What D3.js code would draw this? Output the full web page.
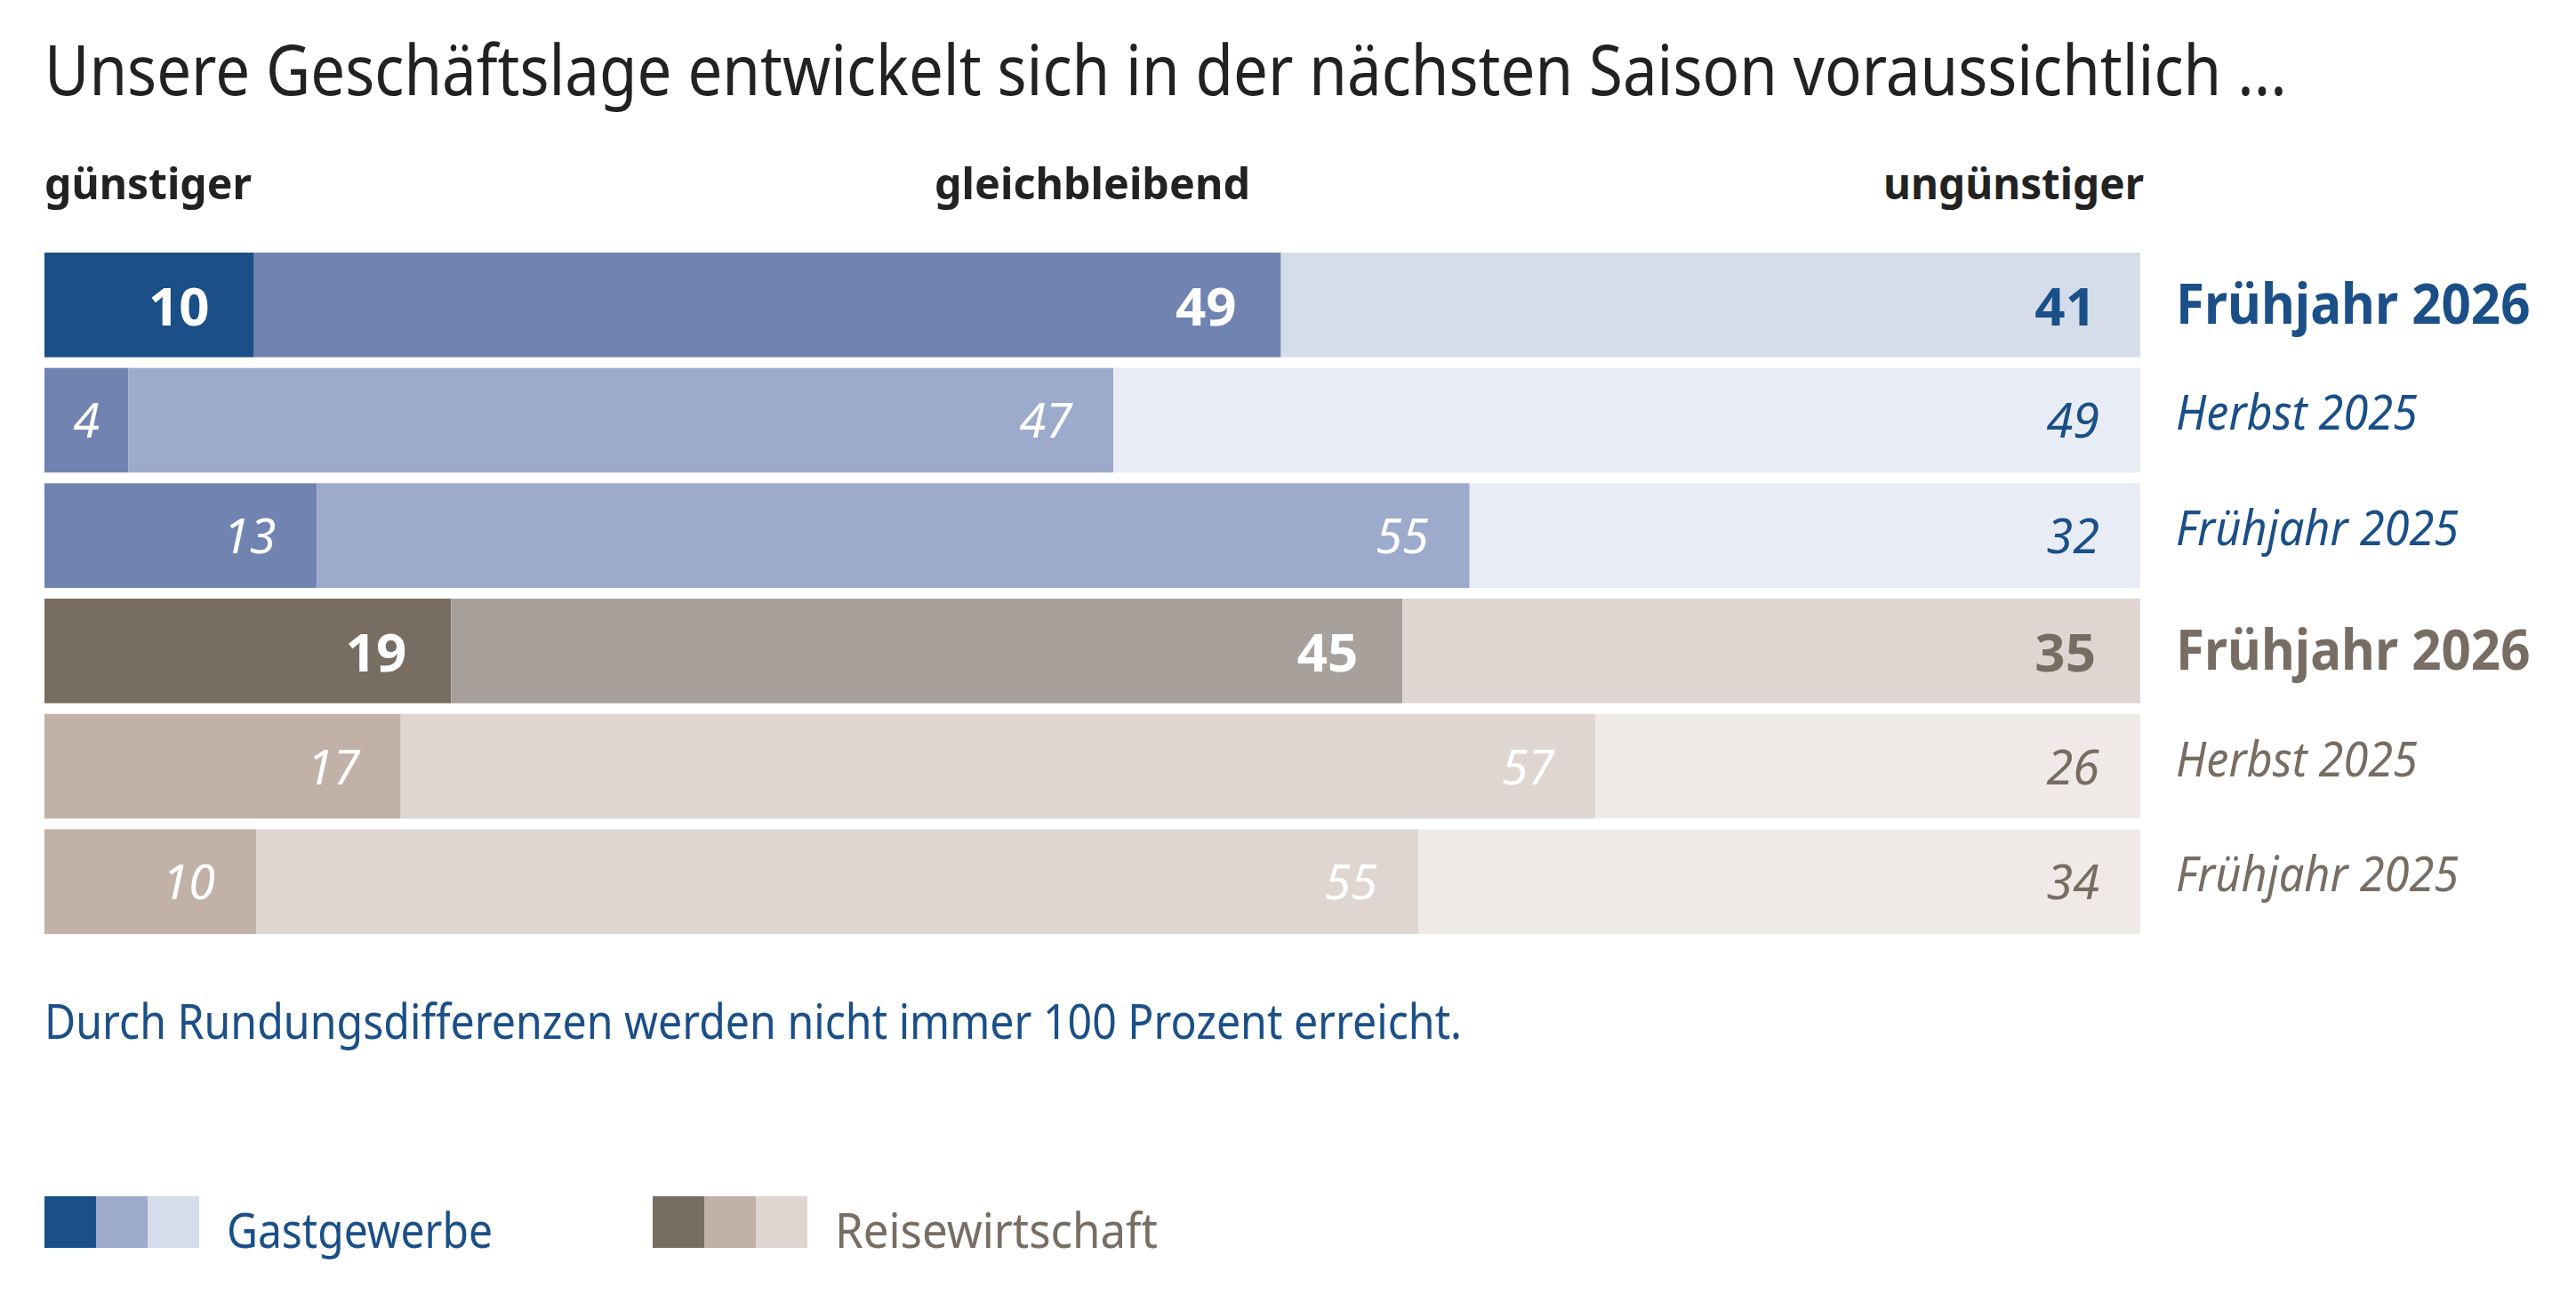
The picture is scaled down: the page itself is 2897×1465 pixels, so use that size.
<!DOCTYPE html>
<html>
<head>
<meta charset="utf-8">
<script src="https://cdn.jsdelivr.net/npm/d3@7"></script>
<style>
  body { margin: 0; background: #fff; }
  text { font-family: "Noto Sans", "Open Sans", sans-serif; }
</style>
</head>
<body>
<div id="chart"></div>
<script>
// survey answers in percent, one entry per bar row (top to bottom)
const rowLabels = ["Frühjahr 2026", "Herbst 2025", "Frühjahr 2025", "Frühjahr 2026", "Herbst 2025", "Frühjahr 2025"];
const branches = ["Gastgewerbe", "Gastgewerbe", "Gastgewerbe", "Reisewirtschaft", "Reisewirtschaft", "Reisewirtschaft"];
const guenstiger = [10, 4, 13, 19.4, 17, 10.1];
const gleichbleibend = [49, 47, 55, 45.4, 57, 55.45];
const unguenstiger = [41, 49, 32, 35.2, 26, 34.45];
const currentRows = [0, 3];
const headers = ["günstiger", "gleichbleibend", "ungünstiger"];
const title = "Unsere Geschäftslage entwickelt sich in der nächsten Saison voraussichtlich ...";
const note = "Durch Rundungsdifferenzen werden nicht immer 100 Prozent erreicht.";

const W = 2897, H = 1465;
const left = 50, right = 2407;

const palette = {
  Gastgewerbe: {
    current: ["#1b4f87", "#7183b1", "#d5dcea"],
    past: ["#7183b1", "#9caacc", "#e8edf5"],
    legend: ["#1b4f87", "#9caacc", "#d5dcea"],
    text: "#1b4f87"
  },
  Reisewirtschaft: {
    current: ["#786d63", "#a8a09a", "#dfd6d1"],
    past: ["#c1b1a7", "#dfd6d1", "#efeae7"],
    legend: ["#786d63", "#c1b1a7", "#dfd6d1"],
    text: "#786d63"
  }
};

const svg = d3.select('#chart').append('svg')
  .attr('width', W).attr('height', H);

svg.append('rect').attr('width', W).attr('height', H).attr('fill', '#fff');

const x = d3.scaleLinear().domain([0, 100]).range([left, right]);
const y = d3.scaleBand().domain(d3.range(rowLabels.length)).range([284, 1050]).paddingInner(0.093);
const fmt = d3.format('.0f');

const table = rowLabels.map((r, i) => ({ i, g: guenstiger[i], m: gleichbleibend[i], u: unguenstiger[i] }));
const keys = ['g', 'm', 'u'];
const series = d3.stack().keys(keys)(table);

// squeeze a text horizontally so it spans the given width (condensed face look)
function fitWidth(sel, width) {
  sel.each(function () {
    const natural = this.getComputedTextLength();
    const k = width / natural;
    const t = d3.select(this);
    const tx = +t.attr('x'), ty = +t.attr('y');
    t.attr('x', 0).attr('y', 0)
      .attr('transform', `translate(${tx},${ty}) scale(${k},1)`);
  });
}

// title
svg.append('text')
  .attr('x', left).attr('y', 107)
  .attr('font-size', 78)
  .attr('fill', '#222')
  .text(title)
  .call(fitWidth, 2522);

// column headers
const headerPos = [
  { x: left, anchor: 'start', w: 233 },
  { x: (left + right) / 2, anchor: 'middle', w: 355 },
  { x: right + 4, anchor: 'end', w: 293 }
];
svg.selectAll('.hdr').data(headers).join('text')
  .attr('class', 'hdr')
  .attr('x', (d, i) => headerPos[i].x)
  .attr('y', 224)
  .attr('text-anchor', (d, i) => headerPos[i].anchor)
  .attr('font-size', 48).attr('font-weight', 700).attr('fill', '#222')
  .attr('textLength', (d, i) => headerPos[i].w).attr('lengthAdjust', 'spacingAndGlyphs')
  .text(d => d);

const isCurrent = i => currentRows.includes(i);
const colorOf = (i, k) => palette[branches[i]][isCurrent(i) ? 'current' : 'past'][k];

// bars
series.forEach((s, k) => {
  svg.selectAll('.seg' + k).data(s).join('rect')
    .attr('class', 'seg' + k)
    .attr('x', d => x(d[0]))
    .attr('y', d => y(d.data.i))
    .attr('width', d => x(d[1]) - x(d[0]))
    .attr('height', y.bandwidth())
    .attr('fill', d => colorOf(d.data.i, k));
});

// value labels
series.forEach((s, k) => {
  const key = keys[k];
  svg.selectAll('.val' + k).data(s).join('text')
    .attr('class', 'val' + k)
    .attr('x', d => {
      const w = x(d[1]) - x(d[0]);
      const pad = isCurrent(d.data.i) ? 50 : 46;
      return w < 150 ? (x(d[0]) + x(d[1])) / 2 : x(d[1]) - pad;
    })
    .attr('text-anchor', d => (x(d[1]) - x(d[0]) < 150 ? 'middle' : 'end'))
    .attr('y', d => y(d.data.i) + y.bandwidth() / 2 + (isCurrent(d.data.i) ? 23 : 20))
    .attr('font-size', d => isCurrent(d.data.i) ? 60 : 54)
    .attr('font-weight', d => isCurrent(d.data.i) ? 700 : 400)
    .attr('font-style', d => isCurrent(d.data.i) ? 'normal' : 'italic')
    .attr('fill', d => k < 2 ? '#fff' : palette[branches[d.data.i]].text)
    .text(d => fmt(d.data[key]));
});

// row labels on the right
svg.selectAll('.rowlab').data(rowLabels).join('text')
  .attr('class', 'rowlab')
  .attr('x', 2447)
  .attr('y', (d, i) => y(i) + y.bandwidth() / 2 + (isCurrent(i) ? 21 : 11))
  .attr('font-size', (d, i) => isCurrent(i) ? 62 : 54)
  .attr('font-weight', (d, i) => isCurrent(i) ? 700 : 400)
  .attr('font-style', (d, i) => isCurrent(i) ? 'normal' : 'italic')
  .attr('fill', (d, i) => palette[branches[i]].text)
  .text(d => d)
  .each(function (d, i) {
    const w = this.getComputedTextLength();
    d3.select(this).attr('textLength', w * (isCurrent(i) ? 0.94 : 0.935)).attr('lengthAdjust', 'spacingAndGlyphs');
  });

// footnote
svg.append('text')
  .attr('x', left).attr('y', 1168)
  .attr('font-size', 55).attr('fill', '#1b4f87')
  .attr('textLength', 1594).attr('lengthAdjust', 'spacingAndGlyphs')
  .text(note);

// legend
const legendItems = [
  { name: 'Gastgewerbe', x: 50, w: 299 },
  { name: 'Reisewirtschaft', x: 734, w: 363 }
];
const sw = 58;
const lg = svg.selectAll('.legend').data(legendItems).join('g')
  .attr('class', 'legend')
  .attr('transform', d => `translate(${d.x},1345)`);
lg.each(function (d) {
  d3.select(this).selectAll('rect').data(palette[d.name].legend).join('rect')
    .attr('x', (c, j) => j * sw)
    .attr('y', 0)
    .attr('width', sw).attr('height', sw)
    .attr('fill', c => c);
});
lg.append('text')
  .attr('x', 3 * sw + 31)
  .attr('y', 58)
  .attr('font-size', 54)
  .attr('fill', d => palette[d.name].text)
  .attr('textLength', d => d.w).attr('lengthAdjust', 'spacingAndGlyphs')
  .text(d => d.name);
</script>
</body>
</html>
